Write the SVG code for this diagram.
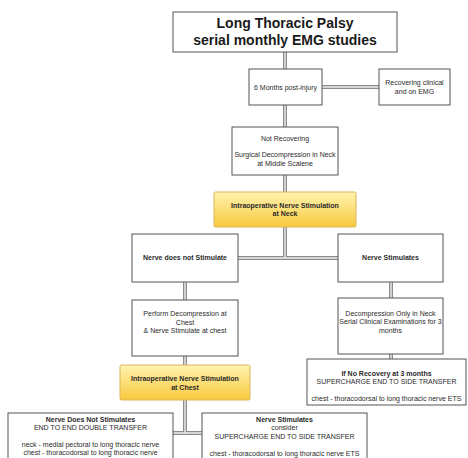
<svg xmlns="http://www.w3.org/2000/svg" width="468" height="458" viewBox="0 0 468 458">
<defs>
<linearGradient id="yel" x1="0" y1="0" x2="0" y2="1">
<stop offset="0" stop-color="#fff3b0"/>
<stop offset="1" stop-color="#f8c93e"/>
</linearGradient>
</defs>
<style>
.box{fill:#ffffff;stroke:#555555;stroke-width:1}
.ybox{fill:url(#yel);stroke:#d9b65a;stroke-width:1}
.t{font-family:"Liberation Sans",Arial,sans-serif;font-size:7px;fill:#2a2a2a;text-anchor:middle}
.b{font-weight:bold}
.title{font-family:"Liberation Sans",Arial,sans-serif;font-size:14px;font-weight:bold;fill:#1a1a1a;text-anchor:middle}
.po{fill:none;stroke:#8c8c8c;stroke-width:4}
.pi{fill:none;stroke:#eeeeee;stroke-width:1.4}
</style>
<rect width="468" height="458" fill="#ffffff"/>
<g id="connectors">
<g class="po">
<path d="M285 52V69M322 87H379M285 105V127M285 175V192M285 227V258M238 258H338M185 282V300M391 282V298M185 356V365M391 354V359M185 400V433M173 433H202"/>
</g>
<g class="pi">
<path d="M285 52V69M322 87H379M285 105V127M285 175V192M285 227V258M238 258H338M185 282V300M391 282V298M185 356V365M391 354V359M185 400V433M173 433H202"/>
</g>
</g>
<g id="title">
<rect class="box" x="173" y="12" width="224" height="40"/>
<text class="title" x="285" y="28">Long Thoracic Palsy</text>
<text class="title" x="285" y="45">serial monthly EMG studies</text>
</g>
<g id="six-months">
<rect class="box" x="249" y="69" width="73" height="36"/>
<text class="t" x="285.5" y="89.5">6 Months post-injury</text>
</g>
<g id="recovering">
<rect class="box" x="379" y="69" width="71" height="36"/>
<text class="t" x="414.5" y="85">Recovering clinical</text>
<text class="t" x="414.5" y="93.5">and on EMG</text>
</g>
<g id="not-recovering">
<rect class="box" x="232" y="127" width="106" height="48"/>
<text class="t" x="285" y="140.5">Not Recovering</text>
<text class="t" x="285" y="157">Surgical Decompression in Neck</text>
<text class="t" x="285" y="165.5">at Middle Scalene</text>
</g>
<g id="stim-neck">
<rect class="ybox" x="214" y="192" width="142" height="35" rx="1.5"/>
<text class="t b" x="285" y="207.5">Intraoperative Nerve Stimulation</text>
<text class="t b" x="285" y="216">at Neck</text>
</g>
<g id="no-stim">
<rect class="box" x="132" y="234" width="106" height="48"/>
<text class="t b" x="185" y="260">Nerve does not Stimulate</text>
</g>
<g id="stim">
<rect class="box" x="338" y="234" width="105" height="48"/>
<text class="t b" x="390.5" y="260">Nerve Stimulates</text>
</g>
<g id="perform">
<rect class="box" x="132" y="300" width="106" height="56"/>
<text class="t" x="185" y="316">Perform Decompression at</text>
<text class="t" x="185" y="324.5">Chest</text>
<text class="t" x="185" y="333">&amp; Nerve Stimulate at chest</text>
</g>
<g id="decomp-neck">
<rect class="box" x="338" y="298" width="105" height="56"/>
<text class="t" x="390.5" y="315.5">Decompression Only in Neck</text>
<text class="t" x="390.5" y="324">Serial Clinical Examinations for 3</text>
<text class="t" x="390.5" y="332.5">months</text>
</g>
<g id="stim-chest">
<rect class="ybox" x="120" y="365" width="130" height="35" rx="1.5"/>
<text class="t b" x="185" y="381">Intraoperative Nerve Stimulation</text>
<text class="t b" x="185" y="389.5">at Chest</text>
</g>
<g id="no-recovery">
<rect class="box" x="307" y="359" width="159" height="46"/>
<text class="t b" x="386.5" y="375.5">If No Recovery at 3 months</text>
<text class="t" x="386.5" y="384">SUPERCHARGE END TO SIDE TRANSFER</text>
<text class="t" x="386.5" y="400.5">chest - thoracodorsal to long thoracic nerve ETS</text>
</g>
<g id="double-transfer">
<rect class="box" x="8" y="413" width="165" height="60"/>
<text class="t b" x="90.5" y="421.5">Nerve Does Not Stimulates</text>
<text class="t" x="90.5" y="430">END TO END DOUBLE TRANSFER</text>
<text class="t" x="90.5" y="446.5">neck - medial pectoral to long thoracic nerve</text>
<text class="t" x="90.5" y="455">chest - thoracodorsal to long thoracic nerve</text>
</g>
<g id="supercharge">
<rect class="box" x="202" y="413" width="165" height="60"/>
<text class="t b" x="284.5" y="422">Nerve Stimulates</text>
<text class="t" x="284.5" y="430">consider</text>
<text class="t" x="284.5" y="438.5">SUPERCHARGE END TO SIDE TRANSFER</text>
<text class="t" x="284.5" y="455.5">chest - thoracodorsal to long thoracic nerve ETS</text>
</g>
</svg>
